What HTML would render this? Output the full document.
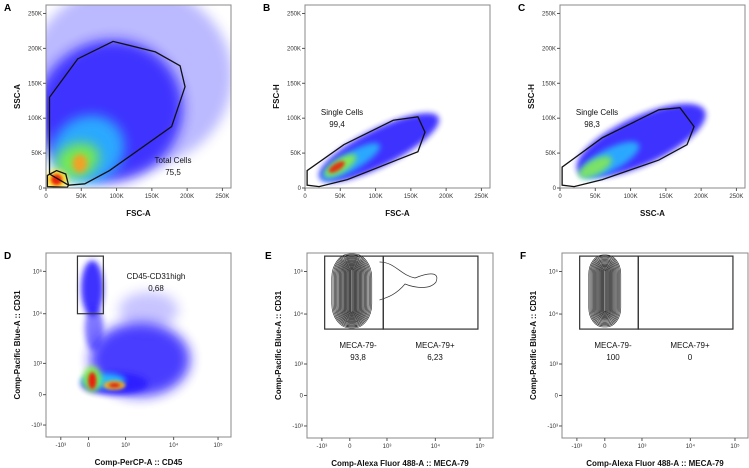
<!DOCTYPE html>
<html><head><meta charset="utf-8">
<style>
body{margin:0;background:#fff;}
svg{display:block;font-family:"Liberation Sans",sans-serif;}
.tk{font-size:6px;fill:#333;}
.ax{font-size:8px;font-weight:bold;fill:#111;}
.lb{font-size:10px;font-weight:bold;fill:#000;}
.gt{font-size:8px;fill:#111;}
</style></head>
<body>
<svg id="fig" width="749" height="468" viewBox="0 0 749 468">
<defs>
<filter id="b6" x="-50%" y="-50%" width="200%" height="200%"><feGaussianBlur stdDeviation="6"/></filter>
<filter id="b3" x="-50%" y="-50%" width="200%" height="200%"><feGaussianBlur stdDeviation="3"/></filter>
<filter id="b2" x="-50%" y="-50%" width="200%" height="200%"><feGaussianBlur stdDeviation="1.6"/></filter>
</defs>
</svg>
<script>
const NS="http://www.w3.org/2000/svg";
const svg=document.getElementById('fig');
const defs=svg.querySelector('defs');
function mk(tag,attrs,parent){const e=document.createElementNS(NS,tag);for(const k in attrs)e.setAttribute(k,attrs[k]);(parent||svg).appendChild(e);return e;}

// ---- data ----
const linTicks=[0,50000,100000,150000,200000,250000];
const linTickLabels=["0","50K","100K","150K","200K","250K"];
const logTicks=[-1000,0,1000,10000,100000];
const logTickLabels=["-10³","0","10³","10⁴","10⁵"];
const gateTotal=[[5000,130000],[45000,185000],[95000,210000],[155000,195000],[190000,175000],[197000,145000],[178000,88000],[90000,25000],[55000,6000],[32000,4000],[5000,20000]];
const gateDebris=[[2000,2000],[2000,18000],[15000,25000],[28000,20000],[32000,4000],[30000,1000]];
const gateSingleB=[[3000,4000],[3000,25000],[55000,62000],[125000,97000],[160000,102000],[170000,80000],[160000,52000],[130000,40000],[60000,12000],[20000,2000]];
const gateSingleC=[[3000,4000],[3000,30000],[60000,72000],[140000,112000],[170000,115000],[190000,88000],[180000,62000],[140000,40000],[60000,12000],[20000,2000]];
const gateCD31=[[-400,10000],[400,230000]];
const gateMecaNeg=[[-900,5000],[900,230000]];
const gateMecaPos=[[900,5000],[90000,230000]];
const blobsA=[[120000,160000,0.55,0.5,0,"#6a66ff",0.45,"b6"],[90000,110000,0.4,0.38,-30,"#2a1dff",0.85,"b6"],[60000,55000,0.2,0.18,-30,"#27c6ff",0.8,"b6"],[45000,40000,0.12,0.09,-20,"#7ef040",0.9,"b6"],[48000,35000,0.04,0.05,0,"#ff9a20",0.9,"b3"],[15000,12000,0.06,0.05,0,"#ffe020",1,"b3"],[15000,12000,0.03,0.03,0,"#e82010",1,"b2"]];
const blobsB=[[105000,58000,0.36,0.1,-27,"#2a1dff",0.9,"b3"],[65000,38000,0.18,0.05,-30,"#27c6ff",0.8,"b3"],[50000,32000,0.1,0.035,-32,"#90f040",0.9,"b3"],[45000,30000,0.05,0.02,-32,"#e82010",0.9,"b2"]];
const blobsC=[[115000,68000,0.38,0.13,-25,"#2a1dff",0.9,"b3"],[70000,40000,0.18,0.06,-28,"#27c6ff",0.8,"b3"],[50000,30000,0.1,0.04,-28,"#90f040",0.8,"b3"]];
const blobsD=[[100,40000,0.06,0.15,0,"#2a1dff",0.9,"b3"],[150,5000,0.05,0.12,0,"#2a1dff",0.6,"b3"],[2000,1200,0.27,0.2,0,"#2a1dff",0.85,"b6"],[3000,12000,0.16,0.1,0,"#4a3dff",0.3,"b6"],[700,350,0.18,0.06,0,"#2a1dff",0.9,"b3"],[400,450,0.12,0.04,0,"#27c6ff",0.9,"b3"],[100,500,0.05,0.07,0,"#80f040",0.9,"b3"],[700,300,0.06,0.025,0,"#f0b020",0.9,"b2"],[100,450,0.022,0.045,0,"#e82010",1,"b2"],[700,300,0.03,0.012,0,"#d82010",1,"b2"]];

const panels={
 A:{x0:46,x1:231,y0:5,y1:188,type:'lin',xl:'FSC-A',yl:'SSC-A'},
 B:{x0:305,x1:490,y0:5,y1:188,type:'lin',xl:'FSC-A',yl:'FSC-H'},
 C:{x0:560,x1:745,y0:5,y1:188,type:'lin',xl:'SSC-A',yl:'SSC-H'},
 D:{x0:46,x1:231,y0:253,y1:437,type:'log',xl:'Comp-PerCP-A :: CD45',yl:'Comp-Pacific Blue-A :: CD31'},
 E:{x0:307,x1:493,y0:253,y1:438,type:'log',xl:'Comp-Alexa Fluor 488-A :: MECA-79',yl:'Comp-Pacific Blue-A :: CD31'},
 F:{x0:562,x1:748,y0:253,y1:438,type:'log',xl:'Comp-Alexa Fluor 488-A :: MECA-79',yl:'Comp-Pacific Blue-A :: CD31'}
};
const logFracX=[0.08,0.23,0.43,0.69,0.93];
const logFracY=[0.065,0.23,0.40,0.67,0.90];
function bx(v,fr){
 const t=logTicks;
 if(v<=t[0])return fr[0];
 for(let i=0;i<t.length-1;i++){
  if(v<=t[i+1]){
   if(t[i]>0){const a=Math.log10(t[i]),b=Math.log10(t[i+1]);const u=(Math.log10(v)-a)/(b-a);return fr[i]+u*(fr[i+1]-fr[i]);}
   const u=(v-t[i])/(t[i+1]-t[i]);return fr[i]+u*(fr[i+1]-fr[i]);
  }
 }
 const a=Math.log10(t[3]),b=Math.log10(t[4]);
 return fr[4]+(Math.log10(v)-b)/(b-a)*(fr[4]-fr[3]);
}
function X(p,v){return p.type==='lin'? p.x0+(v/262144)*(p.x1-p.x0) : p.x0+bx(v,logFracX)*(p.x1-p.x0);}
function Y(p,v){return p.type==='lin'? p.y1-(v/262144)*(p.y1-p.y0) : p.y1-bx(v,logFracY)*(p.y1-p.y0);}

Object.keys(panels).forEach(k=>{const p=panels[k];const c=mk('clipPath',{id:'clip'+k},defs);mk('rect',{x:p.x0,y:p.y0,width:p.x1-p.x0,height:p.y1-p.y0},c);});

function drawBlobs(k,blobs,name){
 const p=panels[k];
 const g=mk('g',{'clip-path':'url(#clip'+k+')'});
 
 
 blobs.forEach(b=>{
  const cx=X(p,b[0]),cy=Y(p,b[1]),w=p.x1-p.x0;
  const e=mk('ellipse',{cx:cx,cy:cy,rx:b[2]*w,ry:b[3]*w,fill:b[5],opacity:b[6],filter:'url(#'+b[7]+')',transform:`rotate(${b[4]} ${cx} ${cy})`},g);
  
  
 });
}
function poly(p,pts,name){
 const e=mk('polygon',{points:pts.map(q=>X(p,q[0])+','+Y(p,q[1])).join(' '),fill:'none',stroke:'#111','stroke-width':1.3});
 
 
}
function rect(p,r,name){
 const x=X(p,r[0][0]),x2=X(p,r[1][0]),y=Math.max(Y(p,r[1][1]),p.y0),y2=Y(p,r[0][1]);
 const e=mk('rect',{x:x,y:y,width:x2-x,height:y2-y,fill:'none',stroke:'#333','stroke-width':1.2});
 
 
}
function text(x,y,s,cls,name,anchor,rot){
 const e=mk('text',{x:x,y:y,class:cls,'text-anchor':anchor||'middle'});
 if(rot)e.setAttribute('transform',`rotate(-90 ${x} ${y})`);
 e.textContent=s;
 
 
 return e;
}
function frame(k){
 const p=panels[k];
 const r=mk('rect',{x:p.x0,y:p.y0,width:p.x1-p.x0,height:p.y1-p.y0,fill:'none',stroke:'#888','stroke-width':1});
 
 
 const ticks=p.type==='lin'?linTicks:logTicks, labs=p.type==='lin'?linTickLabels:logTickLabels;
 ticks.forEach((t,i)=>{
  const x=X(p,t),y=Y(p,t);
  const a=mk('line',{x1:x,x2:x,y1:p.y1,y2:p.y1+3,stroke:'#555'});
  
  const b=mk('line',{x1:p.x0-3,x2:p.x0,y1:y,y2:y,stroke:'#555'});
  
  text(x,p.y1+10,labs[i],'tk','x-tick-label');
  text(p.x0-4,y+2,labs[i],'tk','y-tick-label','end');
 });
 text((p.x0+p.x1)/2,p.y1+28,p.xl,'ax','x-axis-title');
 text(p.x0-26,(p.y0+p.y1)/2,p.yl,'ax','y-axis-title','middle',true);
 text(p.x0-42,p.y0+6,k,'lb','panel-label-'+k.toLowerCase(),'start');
}
drawBlobs('A',blobsA,'density-a');
poly(panels.A,gateTotal,'gate-total-cells');
poly(panels.A,gateDebris,'gate-debris');
text(173,163,'Total Cells','gt','gate-label-total');
text(173,175,'75,5','gt','gate-value-total');
drawBlobs('B',blobsB,'density-b');
poly(panels.B,gateSingleB,'gate-single-cells-b');
text(342,115,'Single Cells','gt','gate-label-b');
text(337,127,'99,4','gt','gate-value-b');
drawBlobs('C',blobsC,'density-c');
poly(panels.C,gateSingleC,'gate-single-cells-c');
text(597,115,'Single Cells','gt','gate-label-c');
text(592,127,'98,3','gt','gate-value-c');
const pD=panels.D;
drawBlobs('D',blobsD,'density-d');
rect(pD,gateCD31,'gate-cd45-cd31high');
text(156,279,'CD45-CD31high','gt','gate-label-d');
text(156,291,'0,68','gt','gate-value-d');
function contours(p,cx,cy,n,rx,ry,name){
 const g=mk('g',{});
 
 for(let i=0;i<n;i++){
  const f=1-i/n;
  const w=2*rx*f,h=2*ry*(0.55+0.45*f);
  const e=mk('rect',{x:cx-w/2,y:cy-h/2,width:w,height:h,rx:w/2*0.9,ry:Math.min(h/2,w*0.6),fill:'#333','fill-opacity':0.06,stroke:'#222','stroke-width':0.6},g);
  
 }
}
const pE=panels.E,pF=panels.F;
contours(pE,X(pE,0)+2,Y(pE,35000),16,20,37,'contour-meca-neg-e');
const tx=X(pE,800);
const tail=mk('path',{d:`M${tx},262 C395,262 400,275 415,278 C430,272 440,272 436,282 C430,290 415,288 405,284 C395,296 385,298 ${tx},300`,fill:'none',stroke:'#333','stroke-width':0.7});

contours(pF,X(pF,0),Y(pF,35000),14,16,36,'contour-meca-neg-f');
rect(pE,gateMecaNeg,'gate-meca79-neg-e');rect(pE,gateMecaPos,'gate-meca79-pos-e');
rect(pF,gateMecaNeg,'gate-meca79-neg-f');rect(pF,gateMecaPos,'gate-meca79-pos-f');
text(358,348,'MECA-79-','gt','gate-label-neg-e');text(358,360,'93,8','gt','gate-value-neg-e');
text(435,348,'MECA-79+','gt','gate-label-pos-e');text(435,360,'6,23','gt','gate-value-pos-e');
text(613,348,'MECA-79-','gt','gate-label-neg-f');text(613,360,'100','gt','gate-value-neg-f');
text(690,348,'MECA-79+','gt','gate-label-pos-f');text(690,360,'0','gt','gate-value-pos-f');
['A','B','C','D','E','F'].forEach(frame);
</script>
</body></html>
